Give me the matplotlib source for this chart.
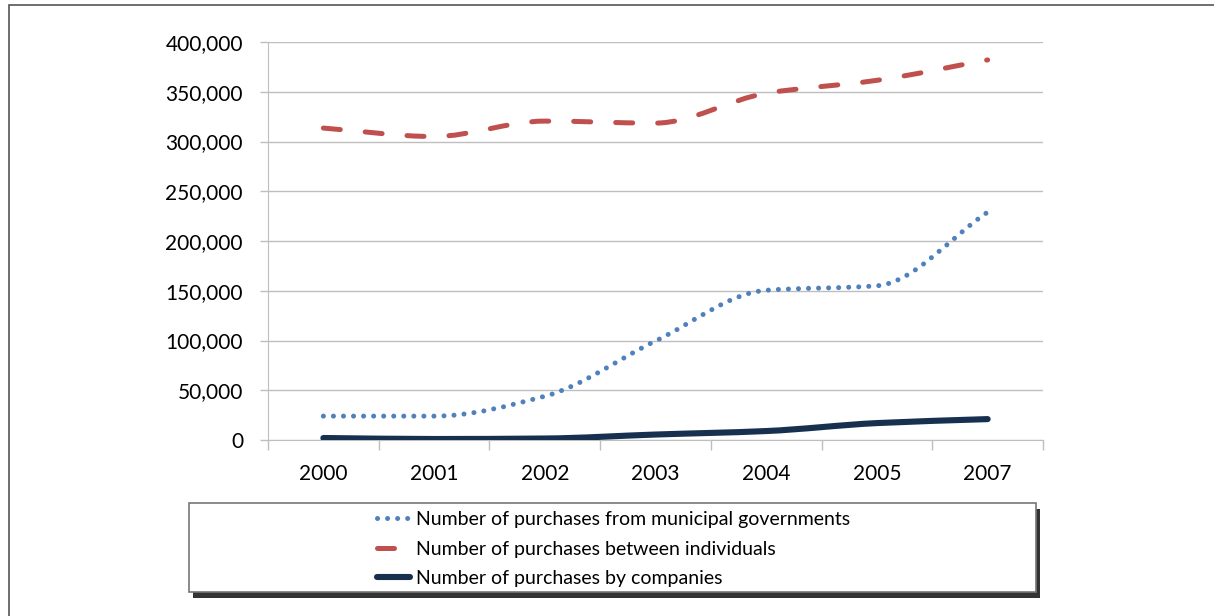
import numpy as np
import matplotlib.pyplot as plt
import matplotlib
from matplotlib.path import Path
from matplotlib.patches import PathPatch, Rectangle
from matplotlib.lines import Line2D

matplotlib.rc('font', size=15)
matplotlib.rc('font', family='Lato')

years = ['2000', '2001', '2002', '2003', '2004', '2005', '2007']
municipal = [24000, 24000, 44000, 99500, 150500, 155000, 229000]
individuals = [313500, 305000, 320500, 318500, 348500, 361500, 382000]
companies = [2000, 1000, 1500, 5500, 9000, 17000, 21000]

labels = ['Number of purchases from municipal governments',
          'Number of purchases between individuals',
          'Number of purchases by companies']

blue = '#4F81BD'
red = '#C0504D'
navy = '#17304F'
grid = '#BEBEBE'


def smooth_path(x, y):
    # bezier pieces with monotone tangents (no overshoot on flat parts)
    x = np.asarray(x, float)
    y = np.asarray(y, float)
    d = np.diff(y) / np.diff(x)
    m = np.zeros_like(y)
    m[0], m[-1] = d[0], d[-1]
    for i in range(1, len(y) - 1):
        if d[i-1] * d[i] > 0:
            m[i] = 2 / (1 / d[i-1] + 1 / d[i])
    verts = [(x[0], y[0])]
    codes = [Path.MOVETO]
    for i in range(len(x) - 1):
        h = x[i+1] - x[i]
        verts += [(x[i] + h/3, y[i] + m[i]*h/3),
                  (x[i+1] - h/3, y[i+1] - m[i+1]*h/3),
                  (x[i+1], y[i+1])]
        codes += [Path.CURVE4] * 3
    return Path(verts, codes)


fig = plt.figure(figsize=(12.14, 6.16), dpi=100)
ax = fig.add_axes([268/1214, 176/616, 775/1214, 398/616])

xs = np.arange(len(years))
styles = [
    dict(color=blue, lw=3.6, ls=(0, (0.01, 2.0)), capstyle='round'),
    dict(color=red, lw=3.6, ls=(0, (3.4, 5.0)), capstyle='round'),
    dict(color=navy, lw=4.4, ls='-', capstyle='round'),
]
for vals, st in zip([municipal, individuals, companies], styles):
    patch = PathPatch(smooth_path(xs, vals), fill=False, edgecolor=st['color'],
                      lw=st['lw'], linestyle=st['ls'], capstyle=st['capstyle'],
                      joinstyle='round', zorder=3)
    ax.add_patch(patch)

ax.set_xlim(-0.5, len(years) - 0.5)
ax.set_ylim(0, 400000)
ax.set_yticks(np.arange(0, 400001, 50000))
ax.yaxis.set_major_formatter(matplotlib.ticker.FuncFormatter(lambda v, p: '{:,.0f}'.format(v)))
ax.set_xticks(xs)
ax.set_xticklabels(years)
ax.set_xticks(np.arange(-0.5, len(years)), minor=True)
ax.tick_params(axis='x', which='major', length=0, pad=17)
ax.tick_params(axis='x', which='minor', length=7, color=grid, width=1)
ax.tick_params(axis='y', length=6, color=grid, width=1, pad=12)
ax.grid(axis='y', color=grid, lw=1)
ax.set_axisbelow(True)
for s in ['top', 'right']:
    ax.spines[s].set_visible(False)
ax.spines['left'].set_color(grid)
ax.spines['bottom'].set_color(grid)

# outer frame of the picture
fig.patches.append(Rectangle((9/1214, -0.1), 1.2, 0.1 + 611/616, transform=fig.transFigure,
                             fill=False, edgecolor='#555555', lw=1.2))

# legend box with shadow
lx0, ly0, lw_, lh = 189/1214, (616-592)/616, 847/1214, 89/616
fig.patches.append(Rectangle((lx0 + 4/1214, ly0 - 6/616), lw_, lh, transform=fig.transFigure,
                             facecolor='#333333', edgecolor='none', zorder=1))
fig.patches.append(Rectangle((lx0, ly0), lw_, lh, transform=fig.transFigure,
                             facecolor='white', edgecolor='#777777', lw=1.2, zorder=2))

handles = [Line2D([], [], color=st['color'], lw=st['lw'], ls=st['ls'],
                  solid_capstyle='round', dash_capstyle='round') for st in styles]
leg = fig.legend(handles, labels, loc='upper left', bbox_to_anchor=(377/1214, (616-511)/616),
                 frameon=False, handlelength=1.7, handletextpad=0.3, labelspacing=0.65,
                 borderpad=0, borderaxespad=0, fontsize=14)
leg.set_zorder(5)

fig.savefig('out.png', dpi=100)
